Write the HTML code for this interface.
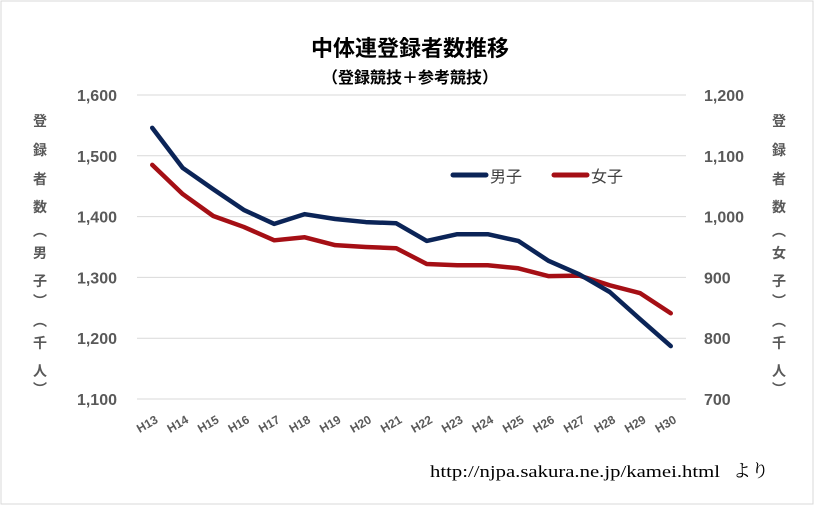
<!DOCTYPE html>
<html><head><meta charset="utf-8"><style>
body{margin:0;background:#fff;}
svg text{font-family:"Liberation Sans","Noto Sans CJK JP",sans-serif;}
</style></head><body>
<svg width="824" height="507" viewBox="0 0 824 507">
<rect x="1" y="1" width="812" height="503" fill="#fff" stroke="#d9d9d9"/>
<text x="410" y="56" text-anchor="middle" font-size="22" font-weight="bold" fill="#000">中体連登録者数推移</text>
<text x="410" y="83" text-anchor="middle" font-size="16" font-weight="bold" fill="#000">（登録競技＋参考競技）</text>
<g id="grid"></g><g id="lines"></g><g id="axes"></g>
<g>
<line x1="453" y1="175" x2="486" y2="175" stroke="#0b2457" stroke-width="5" stroke-linecap="round"/>
<text x="490" y="182" font-size="16" fill="#404040">男子</text>
<line x1="554" y1="175" x2="587" y2="175" stroke="#a50f15" stroke-width="5" stroke-linecap="round"/>
<text x="591" y="182" font-size="16" fill="#404040">女子</text>
</g>
<g font-size="14" fill="#595959" font-weight="bold" text-anchor="middle">
<text x="40" y="126">登</text><text x="40" y="155">録</text><text x="40" y="184">者</text><text x="40" y="212">数</text><text x="40" y="236">︵</text><text x="40" y="258">男</text><text x="40" y="286">子</text><text x="40" y="306">︶</text><text x="40" y="326">︵</text><text x="40" y="348">千</text><text x="40" y="376">人</text><text x="40" y="394">︶</text>
</g>
<g font-size="14" fill="#595959" font-weight="bold" text-anchor="middle">
<text x="779" y="126">登</text><text x="779" y="155">録</text><text x="779" y="184">者</text><text x="779" y="212">数</text><text x="779" y="236">︵</text><text x="779" y="258">女</text><text x="779" y="286">子</text><text x="779" y="306">︶</text><text x="779" y="326">︵</text><text x="779" y="348">千</text><text x="779" y="376">人</text><text x="779" y="394">︶</text>
</g>
<text x="430" y="477" font-size="17" fill="#000" style="font-family:'Liberation Serif','Noto Serif CJK SC',serif"><tspan textLength="290" lengthAdjust="spacingAndGlyphs">http://njpa.sakura.ne.jp/kamei.html</tspan><tspan x="733" font-size="18">より</tspan></text>
</svg>
<script>
const categories=["H13","H14","H15","H16","H17","H18","H19","H20","H21","H22","H23","H24","H25","H26","H27","H28","H29","H30"];
const maleValues=[1546,1480,1445,1411,1388,1404,1396,1391,1389,1360,1371,1371,1360,1327,1305,1276,1231,1187];
const femaleValues=[1085,1037,1001,983,961,966,953,950,948,922,920,920,915,902,903,887,874,841];
const leftTicks=[1100,1200,1300,1400,1500,1600];
const rightTicks=[700,800,900,1000,1100,1200];
const NS="http://www.w3.org/2000/svg";
const x0=137,x1=686,yTop=95,yBot=399;
const step=(x1-x0)/categories.length;
const xS=i=>x0+step*(i+0.5);
const yL=v=>yBot-(v-1100)/500*(yBot-yTop);
const yR=v=>yBot-(v-700)/500*(yBot-yTop);
function mk(t,a,p){const e=document.createElementNS(NS,t);for(const k in a)e.setAttribute(k,a[k]);p.appendChild(e);return e;}
const grid=document.getElementById('grid'),axes=document.getElementById('axes'),lines=document.getElementById('lines');
leftTicks.forEach(v=>{
 const l=mk('line',{x1:x0,x2:x1,y1:yL(v),y2:yL(v),stroke:'#d9d9d9'},grid);
 
 
 const t=mk('text',{x:117,y:yL(v)+6,'text-anchor':'end','font-size':16,'font-weight':'bold',fill:'#595959'},axes);
 t.textContent=v.toLocaleString('en-US');
 
 
});
rightTicks.forEach(v=>{
 const t=mk('text',{x:704,y:yR(v)+6,'font-size':16,'font-weight':'bold',fill:'#595959'},axes);
 t.textContent=v.toLocaleString('en-US');
 
 
});
categories.forEach((c,i)=>{
 const x=xS(i),y=416;
 const t=mk('text',{x:x+3,y:y+7,'text-anchor':'end','font-size':12,'font-weight':'bold',fill:'#595959',transform:`rotate(-30 ${x+3} ${y})`},axes);
 t.textContent=c;
 
 
});
const pm=mk('polyline',{points:maleValues.map((v,i)=>xS(i)+','+yL(v)).join(' '),fill:'none',stroke:'#0b2457','stroke-width':4.5,'stroke-linejoin':'round','stroke-linecap':'round'},lines);


const pf=mk('polyline',{points:femaleValues.map((v,i)=>xS(i)+','+yR(v)).join(' '),fill:'none',stroke:'#a50f15','stroke-width':4.5,'stroke-linejoin':'round','stroke-linecap':'round'},lines);


lines.appendChild(pm);
</script>
</body></html>
